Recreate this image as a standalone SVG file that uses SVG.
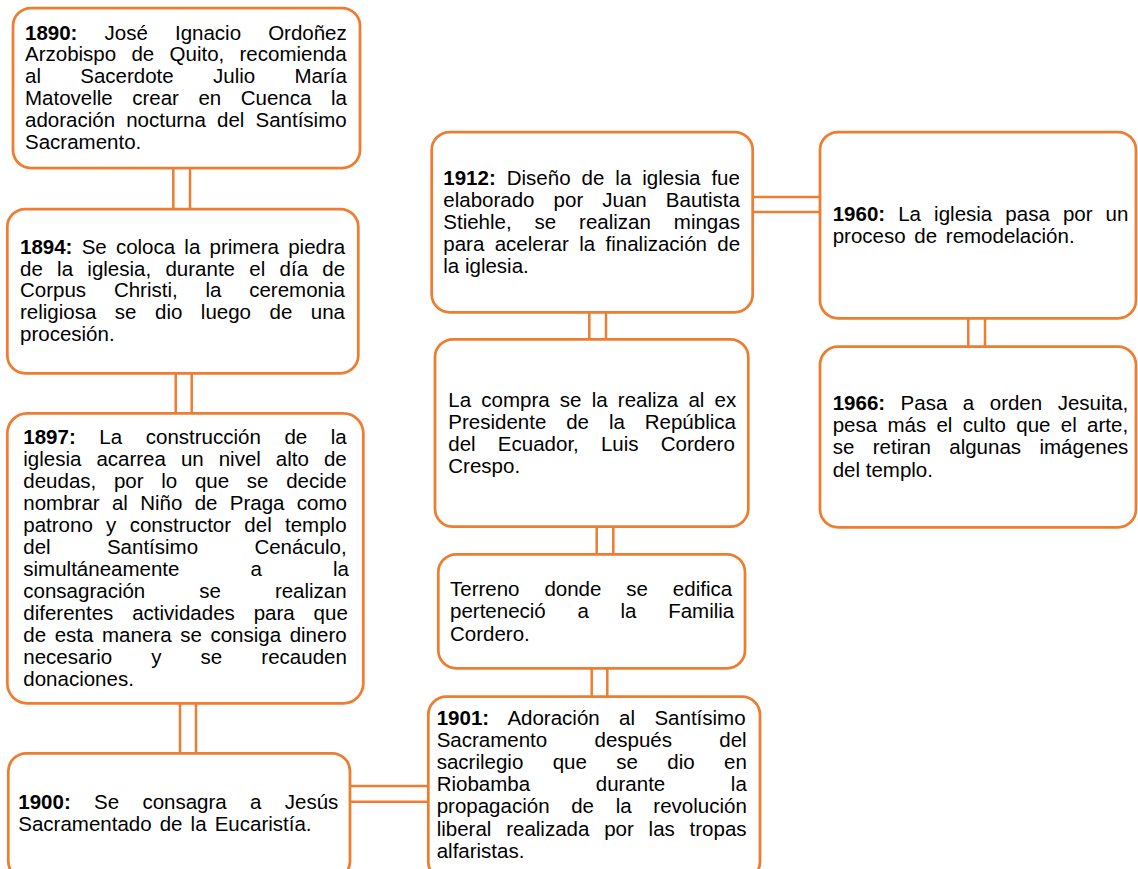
<svg xmlns="http://www.w3.org/2000/svg" width="1138" height="869" viewBox="0 0 1138 869">
<style>
.box{fill:#fff;stroke:#ED7D31;stroke-width:2.75}
.c{stroke:#ED7D31;stroke-width:2.5;fill:none}
text{font-family:"Liberation Sans",Arial,sans-serif;font-size:20.5px;fill:#000}
.b{font-weight:bold}
</style>
<rect width="1138" height="869" fill="#fff"/>
<g id="connectors">
<path class="c" d="M173.3 168V209M190 168V209"/>
<path class="c" d="M175.7 373V413M191.7 373V413"/>
<path class="c" d="M180 703V753M196 703V753"/>
<path class="c" d="M350 786H428M350 801.7H428"/>
<path class="c" d="M589.3 312V339M606 312V339"/>
<path class="c" d="M596.7 527V554M613.3 527V554"/>
<path class="c" d="M591.7 668V697M607.3 668V697"/>
<path class="c" d="M753 197H820M753 212H820"/>
<path class="c" d="M968.3 318V347M985 318V347"/>
</g>
<g id="n1890">
<rect class="box" x="13" y="8" width="347" height="160" rx="18"/>
<text x="25" y="39.5" word-spacing="21.4"><tspan class="b">1890:</tspan> José Ignacio Ordoñez</text>
<text x="25" y="61.4" word-spacing="9.6">Arzobispo de Quito, recomienda</text>
<text x="25" y="83.3" word-spacing="33.6">al Sacerdote Julio María</text>
<text x="25" y="105.2" word-spacing="13.8">Matovelle crear en Cuenca la</text>
<text x="25" y="127.1" word-spacing="5.4">adoración nocturna del Santísimo</text>
<text x="25" y="149">Sacramento.</text>
</g>
<g id="n1894">
<rect class="box" x="7.3" y="209" width="351" height="164.3" rx="18"/>
<text x="20" y="254" word-spacing="3.5"><tspan class="b">1894:</tspan> Se coloca la primera piedra</text>
<text x="20" y="275.7" word-spacing="8.6">de la iglesia, durante el día de</text>
<text x="20" y="297.4" word-spacing="22.1">Corpus Christi, la ceremonia</text>
<text x="20" y="319.1" word-spacing="12.8">religiosa se dio luego de una</text>
<text x="20" y="340.8">procesión.</text>
</g>
<g id="n1897">
<rect class="box" x="7.3" y="413.3" width="356" height="290" rx="20"/>
<text x="23.3" y="444" word-spacing="17.9"><tspan class="b">1897:</tspan> La construcción de la</text>
<text x="23.3" y="466" word-spacing="9.3">iglesia acarrea un nivel alto de</text>
<text x="23.3" y="488" word-spacing="12">deudas, por lo que se decide</text>
<text x="23.3" y="510" word-spacing="6.6">nombrar al Niño de Praga como</text>
<text x="23.3" y="532" word-spacing="7.6">patrono y constructor del templo</text>
<text x="23.3" y="554" word-spacing="50.6">del Santísimo Cenáculo,</text>
<text x="23.3" y="576" word-spacing="65.4">simultáneamente a la</text>
<text x="23.3" y="598" word-spacing="48.3">consagración se realizan</text>
<text x="23.3" y="620" word-spacing="13.2">diferentes actividades para que</text>
<text x="23.3" y="642" word-spacing="2.9">de esta manera se consiga dinero</text>
<text x="23.3" y="664" word-spacing="33.4">necesario y se recauden</text>
<text x="23.3" y="686">donaciones.</text>
</g>
<g id="n1900">
<rect class="box" x="8.3" y="753.3" width="341.7" height="126" rx="18"/>
<text x="18.3" y="809" word-spacing="17.6"><tspan class="b">1900:</tspan> Se consagra a Jesús</text>
<text x="18.3" y="831" word-spacing="2.4">Sacramentado de la Eucaristía.</text>
</g>
<g id="n1901">
<rect class="box" x="428.3" y="696.7" width="331.7" height="183" rx="18"/>
<text x="436.7" y="725" word-spacing="13.7"><tspan class="b">1901:</tspan> Adoración al Santísimo</text>
<text x="436.7" y="747.1" word-spacing="41.6">Sacramento después del</text>
<text x="436.7" y="769.2" word-spacing="23.7">sacrilegio que se dio en</text>
<text x="436.7" y="791.3" word-spacing="59.9">Riobamba durante la</text>
<text x="436.7" y="813.4" word-spacing="16">propagación de la revolución</text>
<text x="436.7" y="835.5" word-spacing="9.1">liberal realizada por las tropas</text>
<text x="436.7" y="857.6">alfaristas.</text>
</g>
<g id="nTerreno">
<rect class="box" x="438.3" y="554.3" width="306.7" height="114" rx="18"/>
<text x="450" y="596" word-spacing="19.2">Terreno donde se edifica</text>
<text x="450" y="618.3" word-spacing="26">perteneció a la Familia</text>
<text x="450" y="640.6">Cordero.</text>
</g>
<g id="nCompra">
<rect class="box" x="435" y="339.3" width="313.3" height="187.4" rx="18"/>
<text x="448.3" y="407.3" word-spacing="4.5">La compra se la realiza al ex</text>
<text x="448.3" y="429.3" word-spacing="14.2">Presidente de la República</text>
<text x="448.3" y="451.3" word-spacing="16.5">del Ecuador, Luis Cordero</text>
<text x="448.3" y="473.3">Crespo.</text>
</g>
<g id="n1912">
<rect class="box" x="431.7" y="132" width="321" height="180.3" rx="18"/>
<text x="443.3" y="185" word-spacing="5.3"><tspan class="b">1912:</tspan> Diseño de la iglesia fue</text>
<text x="443.3" y="206.9" word-spacing="13.4">elaborado por Juan Bautista</text>
<text x="443.3" y="228.8" word-spacing="17.2">Stiehle, se realizan mingas</text>
<text x="443.3" y="250.7" word-spacing="4.7">para acelerar la finalización de</text>
<text x="443.3" y="272.6">la iglesia.</text>
</g>
<g id="n1960">
<rect class="box" x="820" y="132" width="316" height="186.3" rx="18"/>
<text x="832.7" y="221" word-spacing="7.4"><tspan class="b">1960:</tspan> La iglesia pasa por un</text>
<text x="832.7" y="243" word-spacing="3">proceso de remodelación.</text>
</g>
<g id="n1966">
<rect class="box" x="820" y="346.7" width="316" height="180.6" rx="18"/>
<text x="832.7" y="410" word-spacing="9.8"><tspan class="b">1966:</tspan> Pasa a orden Jesuita,</text>
<text x="832.7" y="432.2" word-spacing="4.6">pesa más el culto que el arte,</text>
<text x="832.7" y="454.4" word-spacing="12.7">se retiran algunas imágenes</text>
<text x="832.7" y="476.6">del templo.</text>
</g>
</svg>
